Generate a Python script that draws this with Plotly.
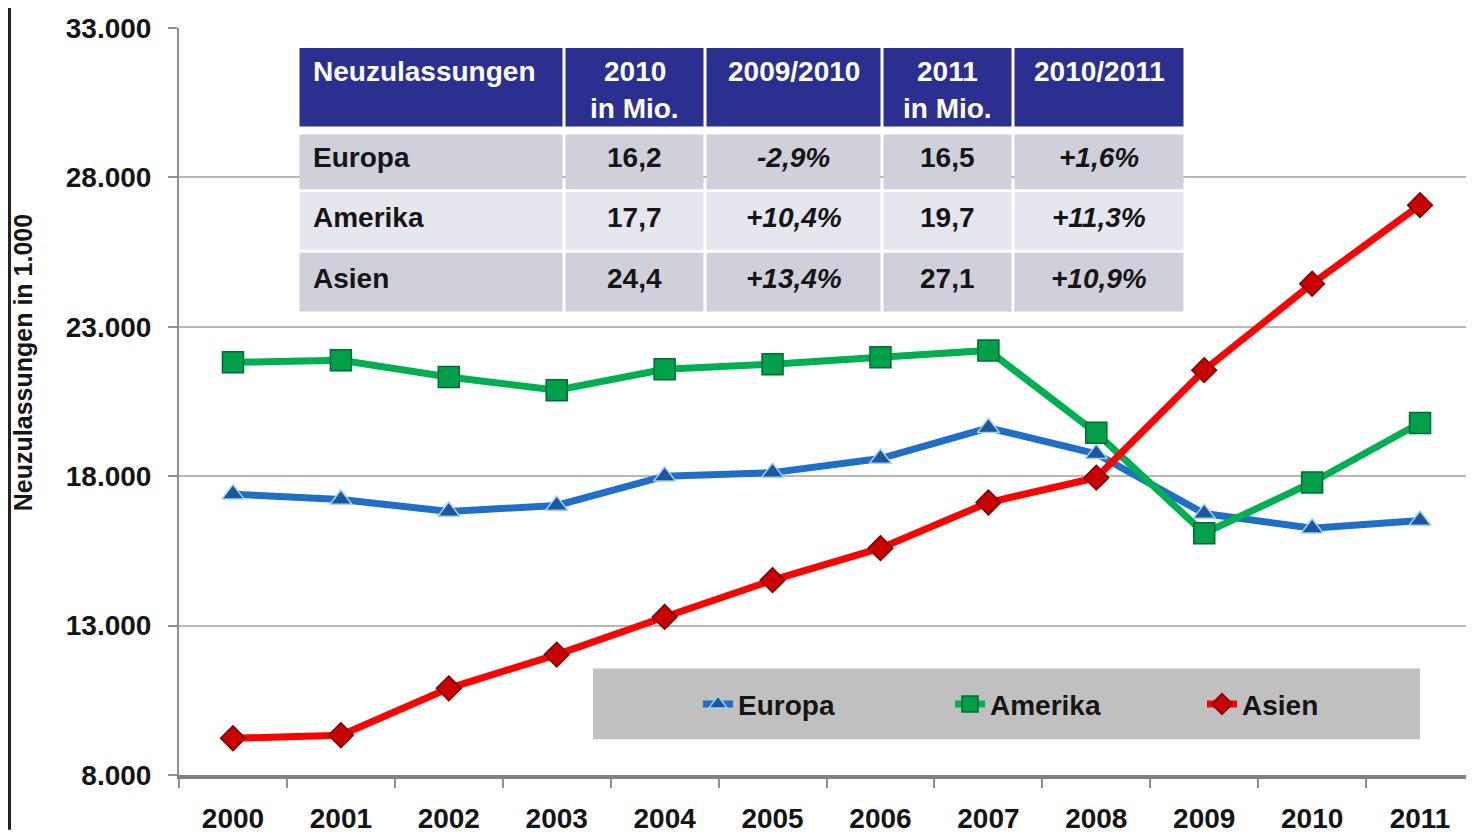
import plotly.graph_objects as go

# ---------------- data ----------------
years = ["2000", "2001", "2002", "2003", "2004", "2005",
         "2006", "2007", "2008", "2009", "2010", "2011"]
europa = [17400, 17220, 16820, 17020, 18000, 18120, 18590, 19620, 18750, 16750, 16260, 16520]
amerika = [21810, 21880, 21320, 20880, 21580, 21750, 21980, 22210, 19450, 16090, 17790, 19780]
asien = [9230, 9330, 10900, 12030, 13290, 14520, 15590, 17120, 17950, 21550, 24440, 27070]

y_tick_values = [8000, 13000, 18000, 23000, 28000, 33000]
y_tick_labels = ["8.000", "13.000", "18.000", "23.000", "28.000", "33.000"]
y_title = "Neuzulassungen in 1.000"

table_header_line1 = ["Neuzulassungen", "2010", "2009/2010", "2011", "2010/2011"]
table_header_line2 = ["", "in Mio.", "", "in Mio.", ""]
table_regions = ["Europa", "Amerika", "Asien"]
table_2010 = ["16,2", "17,7", "24,4"]
table_change_2010 = ["-2,9%", "+10,4%", "+13,4%"]
table_2011 = ["16,5", "19,7", "27,1"]
table_change_2011 = ["+1,6%", "+11,3%", "+10,9%"]

# ---------------- geometry helpers ----------------
OFF = 8                       # default body margin of the html page
W, H = 1474 - OFF, 834 - OFF  # figure fits exactly in the window
# plot area in screen pixels
SL, SR, ST, SB = 179, 1474, 28, 779
L, R, T, B = SL - OFF, SR - OFF, ST - OFF, SB - OFF


def px(x):
    return (x - SL) / (SR - SL)


def py(y):
    return (SB - y) / (SB - ST)


FONT = "Liberation Sans"
FS = 28

fig = go.Figure()

series = [
    ("Europa", europa, "#1f6fc8", "triangle-up", 19, "#1d55a0", "#9fd3e6"),
    ("Amerika", amerika, "#00b050", "square", 21, "#00a04a", "#006b33"),
    ("Asien", asien, "#ff0000", "diamond", 19, "#c80000", "#7a0000"),
]
for name, vals, lc, sym, ms, mc, mlc in series:
    fig.add_trace(go.Scatter(
        x=years, y=vals, name=name, mode="lines+markers",
        line=dict(color=lc, width=7),
        marker=dict(symbol=sym, size=ms, color=mc, line=dict(color=mlc, width=1.5)),
        cliponaxis=False,
    ))

shapes = []
annotations = []

# outer left border line
shapes.append(dict(type="line", xref="paper", yref="paper",
                   x0=px(9.5), x1=px(9.5), y0=py(834), y1=py(0),
                   line=dict(color="#222222", width=3), layer="above"))

# ---------------- table overlay ----------------
col_edges = [298, 564, 705, 882, 1013, 1185]
row_edges = [(48, 127), (135, 190), (193, 251), (254, 313)]
row_fills = ["#2b2f8f", "#cfd0da", "#e6e6ee", "#cfd0da"]
for ri, (y0, y1) in enumerate(row_edges):
    for ci in range(len(col_edges) - 1):
        shapes.append(dict(type="rect", xref="paper", yref="paper",
                           x0=px(col_edges[ci] + 1.5), x1=px(col_edges[ci + 1] - 1.5),
                           y0=py(y1), y1=py(y0),
                           fillcolor=row_fills[ri], line=dict(width=0), layer="above"))

hdr_font = dict(family=FONT, size=FS, color="#ffffff", weight="bold")
for ci in range(5):
    if ci == 0:
        xa, xan = px(col_edges[0] + 13), "left"
    else:
        xa, xan = px((col_edges[ci] + col_edges[ci + 1]) / 2), "center"
    annotations.append(dict(xref="paper", yref="paper", x=xa, y=py(72), xanchor=xan,
                            yanchor="middle", text=table_header_line1[ci],
                            showarrow=False, font=hdr_font))
    if table_header_line2[ci]:
        annotations.append(dict(xref="paper", yref="paper", x=xa, y=py(109), xanchor=xan,
                                yanchor="middle", text=table_header_line2[ci],
                                showarrow=False, font=hdr_font))

row_centers = [158, 219, 280]
columns = [table_regions, table_2010, table_change_2010, table_2011, table_change_2011]
italic_cols = {2, 4}
for ri in range(3):
    for ci in range(5):
        if ci == 0:
            xa, xan = px(col_edges[0] + 13), "left"
        else:
            xa, xan = px((col_edges[ci] + col_edges[ci + 1]) / 2), "center"
        f = dict(family=FONT, size=FS, color="#151515", weight="bold")
        if ci in italic_cols:
            f["style"] = "italic"
        annotations.append(dict(xref="paper", yref="paper", x=xa, y=py(row_centers[ri]),
                                xanchor=xan, yanchor="middle", text=columns[ci][ri],
                                showarrow=False, font=f))

# ---------------- legend box ----------------
shapes.append(dict(type="rect", xref="paper", yref="paper",
                   x0=px(593), x1=px(1420), y0=py(743), y1=py(672),
                   fillcolor="#c0c0c0", line=dict(width=0), layer="above"))

# y-axis title
annotations.append(dict(xref="paper", yref="paper", x=px(23), y=py(365),
                        xanchor="center", yanchor="middle", text=y_title, textangle=-90,
                        showarrow=False,
                        font=dict(family=FONT, size=25, color="#151515", weight="bold")))

fig.update_layout(
    width=W, height=H,
    margin=dict(l=L, r=W - R, t=T, b=H - B, pad=0),
    paper_bgcolor="#ffffff", plot_bgcolor="#ffffff",
    shapes=shapes, annotations=annotations,
    showlegend=True,
    legend=dict(orientation="h", x=px(698), y=py(708), xanchor="left", yanchor="middle",
                bgcolor="rgba(0,0,0,0)", borderwidth=0,
                font=dict(family=FONT, size=FS, color="#151515", weight="bold"),
                entrywidth=207, entrywidthmode="pixels", itemwidth=30,
                traceorder="normal"),
    xaxis=dict(type="category", range=[-0.5, 11.5], tickson="boundaries",
               ticks="outside", ticklen=9, tickwidth=2, tickcolor="#909090",
               showline=True, linecolor="#808080", linewidth=4, showgrid=False,
               tickfont=dict(family=FONT, size=FS, color="#151515", weight="bold"),
               ticklabelstandoff=15, fixedrange=True),
    yaxis=dict(range=[8000, 33000], tickvals=y_tick_values, ticktext=y_tick_labels,
               showgrid=True, gridcolor="#b8b8b8", gridwidth=2,
               showline=True, linecolor="#909090", linewidth=2,
               ticks="outside", ticklen=9, tickwidth=2, tickcolor="#909090",
               zeroline=False,
               tickfont=dict(family=FONT, size=FS, color="#151515", weight="bold"),
               ticklabelstandoff=11, fixedrange=True),
)

fig.write_html("out.html")
